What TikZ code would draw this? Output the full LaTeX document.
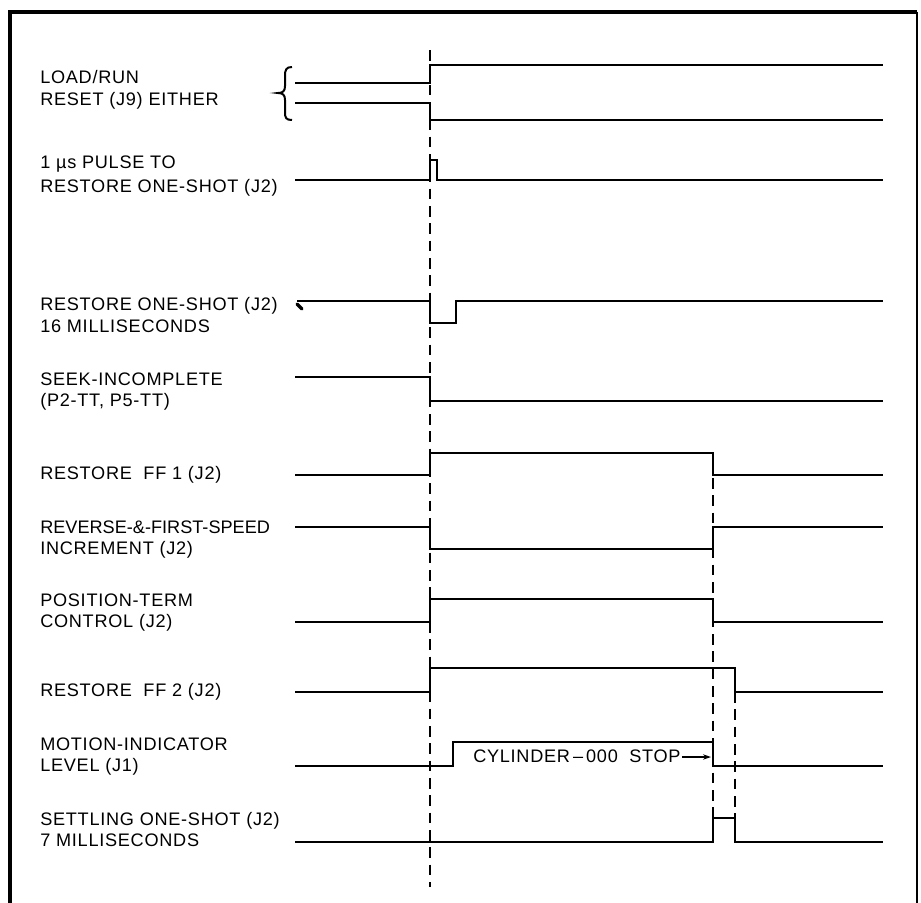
\documentclass[tikz,border=0pt]{standalone}
\usepackage{fontspec}
\setmainfont[LetterSpace=4]{Liberation Sans}
\usetikzlibrary{arrows.meta}
\begin{document}
\begin{tikzpicture}[x=0.75pt,y=-0.75pt,
  sig/.style={line width=1.9pt, line join=miter},
  guide/.style={line width=0.9pt, dash pattern=on 8pt off 5pt},
  frame/.style={line width=2.8pt},
  lbl/.style={anchor=base west, inner sep=0pt, font=\fontsize{13.6}{16}\selectfont}]
\useasboundingbox (0,0) rectangle (921,903);
% frame
\draw[frame] (10,903) -- (10,12) -- (917,12);
\draw[line width=1.4pt] (917,12) -- (917,903);
% guide lines
\draw[guide] (430,50) -- (430,887);
\draw[guide] (713,478) -- (713,818);
\draw[guide] (735,692) -- (735,818);
% labels
\node[lbl] (l1a) at (40,83) {LOAD/RUN};
\node[lbl] (l1b) at (40,105) {RESET (J9) EITHER};
\node[lbl] (l2a) at (40,168) {1 µs PULSE TO};
\node[lbl] (l2b) at (40,192) {RESTORE ONE-SHOT (J2)};
\node[lbl] (l3a) at (40,310) {RESTORE ONE-SHOT (J2)};
\node[lbl] (l3b) at (40,332) {16 MILLISECONDS};
\node[lbl] (l4a) at (40,385) {SEEK-INCOMPLETE};
\node[lbl] (l4b) at (40,406) {(P2-TT, P5-TT)};
\node[lbl] (l5) at (40,479) {RESTORE\ \ FF 1 (J2)};
\node[lbl] (l6a) at (40,533) {\addfontfeatures{LetterSpace=0}REVERSE-\&-FIRST-SPEED};
\node[lbl] (l6b) at (40,554) {INCREMENT (J2)};
\node[lbl] (l7a) at (40,606) {POSITION-TERM};
\node[lbl] (l7b) at (40,627) {CONTROL (J2)};
\node[lbl] (l8) at (40,696) {RESTORE\ \ FF 2 (J2)};
\node[lbl] (l9a) at (40,750) {MOTION-INDICATOR};
\node[lbl] (l9b) at (40,771) {LEVEL (J1)};
\node[lbl] (l10a) at (40,825) {SETTLING ONE-SHOT (J2)};
\node[lbl] (l10b) at (40,846) {7 MILLISECONDS};
% brace
\draw[line width=1.5pt] (292,67) .. controls (286,67) and (285,70) .. (285,76)
  -- (285,86) .. controls (285,91) and (283,93) .. (278,93)
  .. controls (283,93) and (285,95) .. (285,100) -- (285,112)
  .. controls (285,118) and (286,120) .. (292,120);
% waveforms
\draw[sig] (295,83) -- (430,83) -- (430,65) -- (883,65);
\draw[sig] (295,103) -- (430,103) -- (430,120) -- (883,120);
\draw[sig] (295,180) -- (430,180) -- (430,160) -- (437,160) -- (437,180) -- (883,180);
\draw[sig] (297,301) -- (430,301) -- (430,323) -- (456,323) -- (456,301) -- (883,301);
\draw[line width=2.4pt, line cap=round] (297,304) -- (302,309);
\draw[sig] (295,377) -- (430,377) -- (430,401) -- (883,401);
\draw[sig] (295,475) -- (430,475) -- (430,453) -- (713,453) -- (713,475) -- (883,475);
\draw[sig] (295,527) -- (430,527) -- (430,549) -- (713,549) -- (713,527) -- (883,527);
\draw[sig] (295,622) -- (430,622) -- (430,599) -- (713,599) -- (713,622) -- (883,622);
\draw[sig] (295,692) -- (430,692) -- (430,668) -- (735,668) -- (735,692) -- (883,692);
\draw[sig] (295,766) -- (453,766) -- (453,742) -- (713,742) -- (713,766) -- (883,766);
\draw[sig] (295,842) -- (713,842) -- (713,818) -- (735,818) -- (735,842) -- (883,842);
% cylinder stop label
\node[lbl] (cyl) at (473,762) {CYLINDER\,--\,000\ \ STOP};
\coordinate (stopend) at (711,757);
\draw[line width=0.9pt, -{Stealth[length=6pt,width=4pt]}] (cyl.east |- stopend) ++(1,0) -- (stopend);
\end{tikzpicture}
\end{document}
